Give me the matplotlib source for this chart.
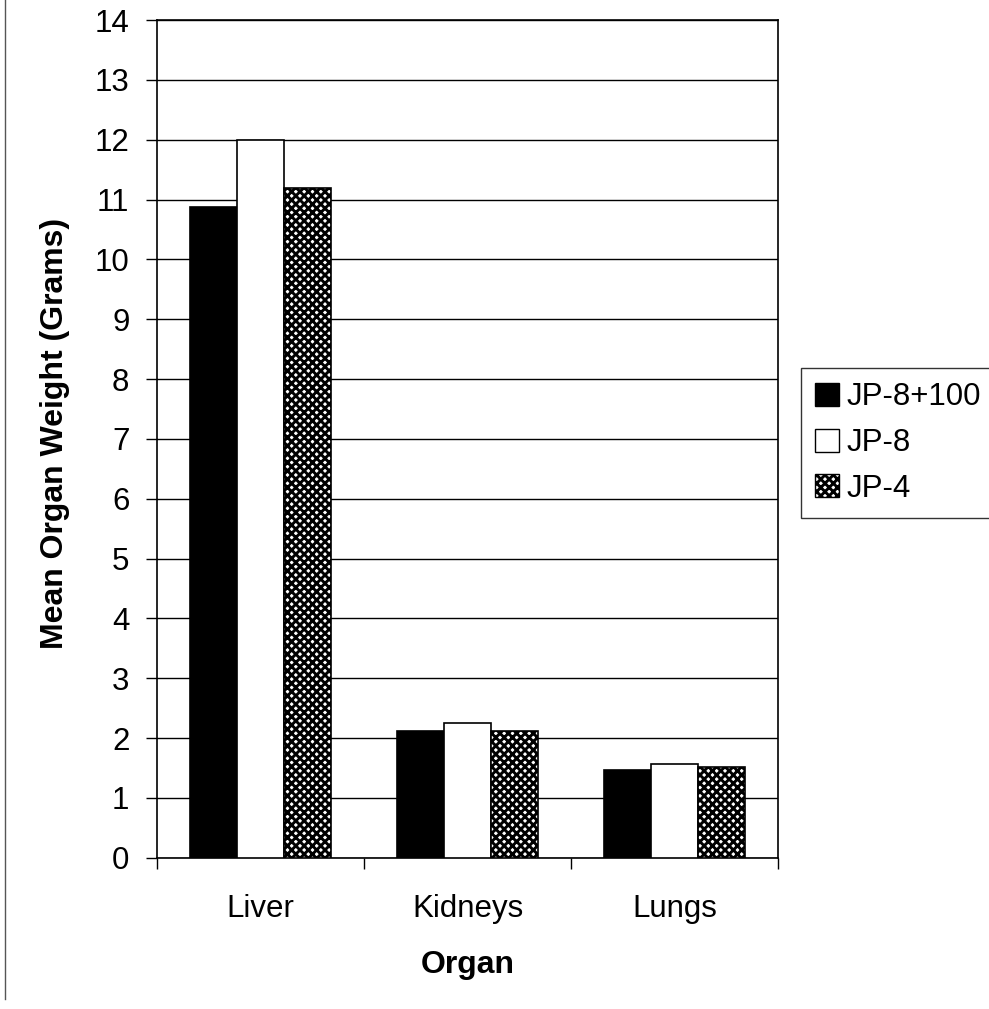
import matplotlib
matplotlib.use("Agg")
from matplotlib import pyplot as plt
from matplotlib.lines import Line2D
from matplotlib.patches import Patch
import numpy as np

organs = ["Liver", "Kidneys", "Lungs"]
jp8_100 = [10.87, 2.12, 1.46]
jp8 = [12.0, 2.25, 1.56]
jp4 = [11.2, 2.12, 1.52]
y_ticks = list(range(0, 15))

plt.rcParams["font.family"] = ["Liberation Sans", "DejaVu Sans"]
plt.rcParams["hatch.linewidth"] = 2.1

fig = plt.figure(figsize=(9.89, 10.09), dpi=100)
ax = fig.add_axes([0.159, 0.150, 0.628, 0.830])

x = np.arange(len(organs))
w = 0.227

ax.bar(x - w, jp8_100, w, color="black", edgecolor="black", linewidth=1.2, zorder=3)
ax.bar(x, jp8, w, color="white", edgecolor="black", linewidth=1.2, zorder=3)
# thick diagonal cross hatch leaves small white diamonds -> checkered look
ax.bar(x + w, jp4, w, color="white", edgecolor="black", hatch="xxxx", linewidth=1.2, zorder=3)

ax.set_xlim(-0.5, 2.5)
ax.set_ylim(0, 14)
ax.set_yticks(y_ticks)
ax.set_yticklabels([str(t) for t in y_ticks], fontsize=22.5)
ax.yaxis.grid(True, color="black", linewidth=1.0, zorder=0)
ax.set_axisbelow(True)

ax.set_xticks([-0.5, 0.5, 1.5, 2.5])
ax.set_xticklabels([])
ax.set_xticks(x, minor=True)
ax.set_xticklabels(organs, minor=True, fontsize=22.5)
ax.tick_params(axis="x", which="major", length=8, width=1, direction="out")
ax.tick_params(axis="x", which="minor", length=0, pad=26)
ax.tick_params(axis="y", length=8, width=1, direction="out", pad=12)

for s in ax.spines.values():
    s.set_linewidth(1.2)
    s.set_color("black")

ax.set_xlabel("Organ", fontsize=23, fontweight="bold", labelpad=19)
ax.set_ylabel("Mean Organ Weight (Grams)", fontsize=23, fontweight="bold")
ax.yaxis.set_label_coords(-0.14, 0.507)

handles = [
    Patch(facecolor="black", edgecolor="black"),
    Patch(facecolor="white", edgecolor="black"),
    Patch(facecolor="white", edgecolor="black", hatch="xxxx"),
]
leg = fig.legend(handles, ["JP-8+100", "JP-8", "JP-4"], loc="upper left",
                 bbox_to_anchor=(0.81, 0.635), fontsize=22.5, frameon=True,
                 fancybox=False, handlelength=0.75, handleheight=0.75,
                 handletextpad=0.25, borderpad=0.45, labelspacing=0.5,
                 borderaxespad=0)
leg.get_frame().set_edgecolor("black")
leg.get_frame().set_linewidth(1.0)

# scan edge on the left
fig.add_artist(Line2D([0.005, 0.005], [0.01, 1.0], transform=fig.transFigure,
                      color="#555555", linewidth=1.0))

fig.savefig("out.png", dpi=100)
